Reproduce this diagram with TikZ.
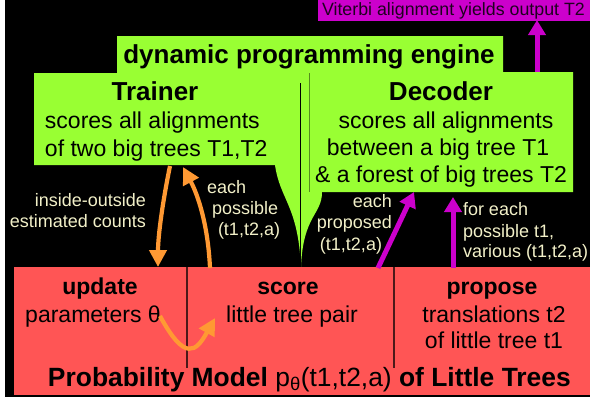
\documentclass[tikz,border=0pt]{standalone}
\usepackage{fontspec}
\setmainfont{Liberation Sans}
\usetikzlibrary{arrows.meta}

\definecolor{engine}{HTML}{99FF33}
\definecolor{model}{HTML}{FF5555}
\definecolor{viterbi}{HTML}{CC00CC}
\definecolor{flow}{HTML}{FF9933}
\definecolor{note}{HTML}{F2F0C8}

\newcommand{\headfont}{\fontsize{26}{30}\selectfont\bfseries}
\newcommand{\bodyfont}{\fontsize{23}{27}\selectfont}
\newcommand{\notefont}{\fontsize{18}{21}\selectfont}

\tikzset{
  txt/.style={inner sep=0pt, outer sep=0pt, text=black},
  head/.style={txt, font=\headfont},
  body/.style={txt, font=\bodyfont},
  notes/.style={inner sep=0pt, outer sep=0pt, text=note, font=\notefont},
  orangearrow/.style={draw=flow, line width=4.2pt,
    -{Triangle[width=17pt,length=17pt]}},
  purplearrow/.style={draw=viterbi, line width=5pt,
    -{Triangle[width=17pt,length=15pt]}},
  divider/.style={draw=black!70!model, line width=1.2pt},
}

\begin{document}
\begin{tikzpicture}[x=1pt, y=-1pt]
\useasboundingbox (0,0) rectangle (590,397);
\fill[white] (0,0) rectangle (590,397);
\fill[black] (5,0) rectangle (590,397);

% output box
\fill[viterbi] (318,0) rectangle (590,21);
\node[txt, anchor=base west, font=\fontsize{17.8}{20}\selectfont, text=black!85!viterbi]
  (viterbitext) at (322,15) {Viterbi alignment yields output T2};

% dynamic programming engine: trainer and decoder joined by a tab
\fill[engine] (34,73) -- (117,73) -- (117,36) -- (503,36) -- (503,72)
  -- (573,72) -- (573,192) -- (322,192)
  .. controls (322,215) and (303,215) .. (301,267)
  .. controls (298,205) and (280,200) .. (275,165)
  -- (34,165) -- cycle;
\draw[black, line width=1pt] (300,83) -- (300,267);
\draw[engine!55!black, line width=0.8pt] (309,73) -- (309,192);

\node[txt, anchor=base, font=\headfont] (engine) at (309,63) {dynamic programming engine};

\node[head, anchor=base] (trainer) at (155,100) {Trainer};
\node[body, anchor=base west] (tr1) at (45,128) {scores all alignments};
\node[body, anchor=base west] (tr2) at (45,156) {of two big trees T1,T2};

\node[head, anchor=base] (decoder) at (441,100) {Decoder};
\node[body, anchor=base] (de1) at (446,128) {scores all alignments};
\node[body, anchor=base] (de2) at (438,155) {between a big tree T1};
\node[body, anchor=base] (de3) at (441,182) {\& a forest of big trees T2};

% probability model of little trees
\fill[model] (14,267) rectangle (590,395);
\draw[divider] (187,267) -- (187,368);
\draw[divider] (394,267) -- (394,368);

\node[body, anchor=base, font=\bodyfont\bfseries] (update) at (100,294) {update};
\node[body, anchor=base] (params) at (93,322) {parameters θ};
\node[body, anchor=base, font=\bodyfont\bfseries] (score) at (288,294) {score};
\node[body, anchor=base] (pair) at (292,322) {little tree pair};
\node[body, anchor=base, font=\bodyfont\bfseries] (propose) at (492,294) {propose};
\node[body, anchor=base] (pr1) at (494,322) {translations t2};
\node[body, anchor=base] (pr2) at (494,348) {of little tree t1};

\node[txt, anchor=base west, font=\fontsize{26.4}{30}\selectfont] (modeltitle) at (48,386)
  {\textbf{Probability Model} p\textsubscript{θ}(t1,t2,a) \textbf{of Little Trees}};

% notes on the black ground
\node[notes, anchor=base east] (io1) at (146,206) {inside-outside};
\node[notes, anchor=base east] (io2) at (146,227) {estimated counts};

\node[notes, anchor=base west] (ep1) at (207,193) {each};
\node[notes, anchor=base west] (ep2) at (212,214) {possible};
\node[notes, anchor=base west] (ep3) at (218,235) {(t1,t2,a)};

\node[notes, anchor=base east] (pp1) at (392,207) {each};
\node[notes, anchor=base east] (pp2) at (392,228) {proposed};
\node[notes, anchor=base east] (pp3) at (382,250) {(t1,t2,a)};

\node[notes, anchor=base west] (fe1) at (463,215) {for each};
\node[notes, anchor=base west] (fe2) at (463,237) {possible t1,};
\node[notes, anchor=base west] (fe3) at (463,257) {various (t1,t2,a)};

% arrow end points on the box edges
\coordinate (trainerOut) at (170,166);
\coordinate (updateIn)   at (158,267);
\coordinate (scoreOut)   at (210,268);
\coordinate (trainerIn)  at (183,167);
\coordinate (thetaOut)   at (160,316);
\coordinate (scoreIn)    at (215,318);
\coordinate (scoreUp)    at (378,268);
\coordinate (decoderIn)  at (414,192);
\coordinate (proposeUp)  at (453,268);
\coordinate (decoderIn2) at (453,197);
\coordinate (decoderOut) at (537,72);
\coordinate (viterbiIn)  at (537,20);

% connectors
\draw[orangearrow] (trainerOut) .. controls (163,200) and (158,235) .. (updateIn);
\draw[orangearrow] (scoreOut) .. controls (208,225) and (198,195) .. (trainerIn);
\draw[orangearrow] (thetaOut) .. controls (185,362) and (196,352) .. (scoreIn);
\draw[purplearrow] (scoreUp) -- (decoderIn);
\draw[purplearrow] (proposeUp) -- (decoderIn2);
\draw[purplearrow] (decoderOut) -- (viterbiIn);
\end{tikzpicture}
\end{document}
